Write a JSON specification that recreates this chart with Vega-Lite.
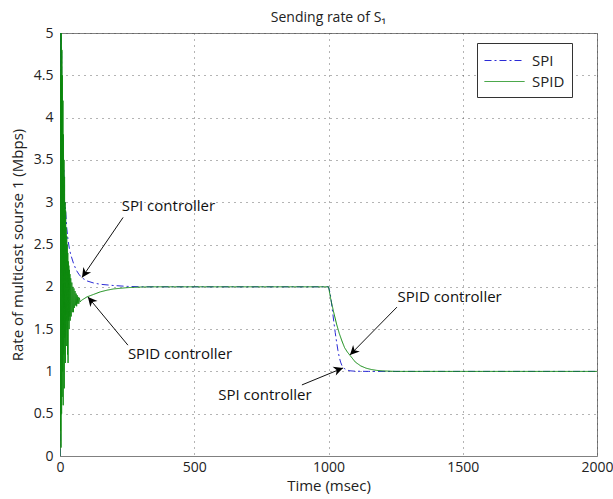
{
  "$schema": "https://vega.github.io/schema/vega-lite/v6.json",
  "width": 537,
  "height": 423,
  "autosize": {"type": "none"},
  "padding": {"left": 60, "top": 33, "right": 16, "bottom": 43},
  "background": "white",
  "config": {
    "font": "Open Sans",
    "view": {"stroke": "#808080", "strokeWidth": 1},
    "axis": {"labelFont": "Open Sans", "titleFont": "Open Sans", "labelFontSize": 14, "titleFontSize": 15, "titleFontWeight": "normal", "labelColor": "#222", "titleColor": "#222", "domainColor": "#808080", "ticks": false, "labelFlush": false, "gridColor": "#444", "gridDash": [1, 5], "gridOpacity": 0.8}
  },
  "title": {"text": "Sending rate of S₁", "fontSize": 14, "fontWeight": "normal", "font": "Open Sans", "color": "#222", "offset": 1},
  "datasets": {
    "series": [
      {"t": 0, "rate": 0, "ctrl": "SPI"}, {"t": 1, "rate": 3.0, "ctrl": "SPI"}, {"t": 2, "rate": 5.0, "ctrl": "SPI"}, {"t": 3, "rate": 4.6, "ctrl": "SPI"}, {"t": 4, "rate": 5.0, "ctrl": "SPI"}, {"t": 5, "rate": 3.2, "ctrl": "SPI"}, {"t": 6, "rate": 4.8, "ctrl": "SPI"}, {"t": 7, "rate": 3.0, "ctrl": "SPI"}, {"t": 8, "rate": 4.2, "ctrl": "SPI"}, {"t": 9, "rate": 2.9, "ctrl": "SPI"}, {"t": 10, "rate": 3.7, "ctrl": "SPI"}, {"t": 11, "rate": 2.6, "ctrl": "SPI"}, {"t": 12, "rate": 3.6, "ctrl": "SPI"}, {"t": 13, "rate": 2.4, "ctrl": "SPI"}, {"t": 14, "rate": 3.4, "ctrl": "SPI"}, {"t": 15, "rate": 2.2, "ctrl": "SPI"}, {"t": 16, "rate": 3.2, "ctrl": "SPI"}, {"t": 17, "rate": 2.3, "ctrl": "SPI"}, {"t": 18, "rate": 3.0, "ctrl": "SPI"}, {"t": 20, "rate": 2.95, "ctrl": "SPI"}, {"t": 22, "rate": 2.85, "ctrl": "SPI"}, {"t": 25, "rate": 2.7, "ctrl": "SPI"}, {"t": 30, "rate": 2.55, "ctrl": "SPI"}, {"t": 35, "rate": 2.45, "ctrl": "SPI"}, {"t": 40, "rate": 2.38, "ctrl": "SPI"}, {"t": 50, "rate": 2.28, "ctrl": "SPI"}, {"t": 60, "rate": 2.2, "ctrl": "SPI"}, {"t": 70, "rate": 2.15, "ctrl": "SPI"}, {"t": 80, "rate": 2.11, "ctrl": "SPI"}, {"t": 100, "rate": 2.07, "ctrl": "SPI"}, {"t": 125, "rate": 2.045, "ctrl": "SPI"}, {"t": 150, "rate": 2.03, "ctrl": "SPI"}, {"t": 200, "rate": 2.015, "ctrl": "SPI"}, {"t": 250, "rate": 2.005, "ctrl": "SPI"}, {"t": 300, "rate": 2.0, "ctrl": "SPI"}, {"t": 1000, "rate": 2.0, "ctrl": "SPI"}, {"t": 1005, "rate": 1.94, "ctrl": "SPI"}, {"t": 1010, "rate": 1.84, "ctrl": "SPI"}, {"t": 1015, "rate": 1.71, "ctrl": "SPI"}, {"t": 1020, "rate": 1.58, "ctrl": "SPI"}, {"t": 1025, "rate": 1.46, "ctrl": "SPI"}, {"t": 1030, "rate": 1.35, "ctrl": "SPI"}, {"t": 1035, "rate": 1.25, "ctrl": "SPI"}, {"t": 1040, "rate": 1.17, "ctrl": "SPI"}, {"t": 1045, "rate": 1.11, "ctrl": "SPI"}, {"t": 1050, "rate": 1.07, "ctrl": "SPI"}, {"t": 1060, "rate": 1.03, "ctrl": "SPI"}, {"t": 1070, "rate": 1.015, "ctrl": "SPI"}, {"t": 1080, "rate": 1.007, "ctrl": "SPI"}, {"t": 1100, "rate": 1.002, "ctrl": "SPI"}, {"t": 1150, "rate": 1.0, "ctrl": "SPI"}, {"t": 2000, "rate": 1.0, "ctrl": "SPI"},
      {"t": 0, "rate": 0, "ctrl": "SPID"}, {"t": 1, "rate": 4.5, "ctrl": "SPID"}, {"t": 2, "rate": 0.3, "ctrl": "SPID"}, {"t": 3, "rate": 5.0, "ctrl": "SPID"}, {"t": 4, "rate": 0.1, "ctrl": "SPID"}, {"t": 5, "rate": 5.0, "ctrl": "SPID"}, {"t": 6, "rate": 0.5, "ctrl": "SPID"}, {"t": 7, "rate": 4.8, "ctrl": "SPID"}, {"t": 8, "rate": 0.7, "ctrl": "SPID"}, {"t": 9, "rate": 4.5, "ctrl": "SPID"}, {"t": 10, "rate": 1.0, "ctrl": "SPID"}, {"t": 11, "rate": 4.2, "ctrl": "SPID"}, {"t": 12, "rate": 0.6, "ctrl": "SPID"}, {"t": 13, "rate": 3.8, "ctrl": "SPID"}, {"t": 14, "rate": 1.2, "ctrl": "SPID"}, {"t": 15, "rate": 3.5, "ctrl": "SPID"}, {"t": 16, "rate": 0.8, "ctrl": "SPID"}, {"t": 17, "rate": 3.3, "ctrl": "SPID"}, {"t": 18, "rate": 1.4, "ctrl": "SPID"}, {"t": 19, "rate": 3.0, "ctrl": "SPID"}, {"t": 20, "rate": 1.1, "ctrl": "SPID"}, {"t": 21, "rate": 2.9, "ctrl": "SPID"}, {"t": 22, "rate": 1.5, "ctrl": "SPID"}, {"t": 23, "rate": 2.7, "ctrl": "SPID"}, {"t": 24, "rate": 1.3, "ctrl": "SPID"}, {"t": 25, "rate": 2.6, "ctrl": "SPID"}, {"t": 26, "rate": 1.6, "ctrl": "SPID"}, {"t": 27, "rate": 2.5, "ctrl": "SPID"}, {"t": 28, "rate": 1.2, "ctrl": "SPID"}, {"t": 29, "rate": 2.4, "ctrl": "SPID"}, {"t": 30, "rate": 1.1, "ctrl": "SPID"}, {"t": 31, "rate": 2.3, "ctrl": "SPID"}, {"t": 32, "rate": 1.6, "ctrl": "SPID"}, {"t": 33, "rate": 2.25, "ctrl": "SPID"}, {"t": 34, "rate": 1.5, "ctrl": "SPID"}, {"t": 35, "rate": 2.2, "ctrl": "SPID"}, {"t": 36, "rate": 1.65, "ctrl": "SPID"}, {"t": 37, "rate": 2.15, "ctrl": "SPID"}, {"t": 38, "rate": 1.6, "ctrl": "SPID"}, {"t": 40, "rate": 2.1, "ctrl": "SPID"}, {"t": 42, "rate": 1.65, "ctrl": "SPID"}, {"t": 44, "rate": 2.05, "ctrl": "SPID"}, {"t": 46, "rate": 1.7, "ctrl": "SPID"}, {"t": 48, "rate": 2.0, "ctrl": "SPID"}, {"t": 50, "rate": 1.7, "ctrl": "SPID"}, {"t": 52, "rate": 1.98, "ctrl": "SPID"}, {"t": 54, "rate": 1.75, "ctrl": "SPID"}, {"t": 56, "rate": 1.95, "ctrl": "SPID"}, {"t": 58, "rate": 1.78, "ctrl": "SPID"}, {"t": 60, "rate": 1.92, "ctrl": "SPID"}, {"t": 62, "rate": 1.77, "ctrl": "SPID"}, {"t": 64, "rate": 1.9, "ctrl": "SPID"}, {"t": 66, "rate": 1.8, "ctrl": "SPID"}, {"t": 68, "rate": 1.88, "ctrl": "SPID"}, {"t": 70, "rate": 1.8, "ctrl": "SPID"}, {"t": 72, "rate": 1.87, "ctrl": "SPID"}, {"t": 75, "rate": 1.82, "ctrl": "SPID"}, {"t": 80, "rate": 1.84, "ctrl": "SPID"}, {"t": 90, "rate": 1.86, "ctrl": "SPID"}, {"t": 100, "rate": 1.88, "ctrl": "SPID"}, {"t": 125, "rate": 1.91, "ctrl": "SPID"}, {"t": 150, "rate": 1.94, "ctrl": "SPID"}, {"t": 175, "rate": 1.96, "ctrl": "SPID"}, {"t": 200, "rate": 1.975, "ctrl": "SPID"}, {"t": 250, "rate": 1.99, "ctrl": "SPID"}, {"t": 300, "rate": 1.997, "ctrl": "SPID"}, {"t": 350, "rate": 2.0, "ctrl": "SPID"}, {"t": 1000, "rate": 2.0, "ctrl": "SPID"}, {"t": 1002, "rate": 1.97, "ctrl": "SPID"}, {"t": 1004, "rate": 1.93, "ctrl": "SPID"}, {"t": 1006, "rate": 1.9, "ctrl": "SPID"}, {"t": 1008, "rate": 1.86, "ctrl": "SPID"}, {"t": 1010, "rate": 1.83, "ctrl": "SPID"}, {"t": 1015, "rate": 1.76, "ctrl": "SPID"}, {"t": 1020, "rate": 1.69, "ctrl": "SPID"}, {"t": 1030, "rate": 1.56, "ctrl": "SPID"}, {"t": 1040, "rate": 1.45, "ctrl": "SPID"}, {"t": 1050, "rate": 1.36, "ctrl": "SPID"}, {"t": 1060, "rate": 1.28, "ctrl": "SPID"}, {"t": 1070, "rate": 1.23, "ctrl": "SPID"}, {"t": 1080, "rate": 1.19, "ctrl": "SPID"}, {"t": 1090, "rate": 1.15, "ctrl": "SPID"}, {"t": 1100, "rate": 1.11, "ctrl": "SPID"}, {"t": 1120, "rate": 1.065, "ctrl": "SPID"}, {"t": 1140, "rate": 1.038, "ctrl": "SPID"}, {"t": 1160, "rate": 1.022, "ctrl": "SPID"}, {"t": 1180, "rate": 1.012, "ctrl": "SPID"}, {"t": 1200, "rate": 1.006, "ctrl": "SPID"}, {"t": 1250, "rate": 1.0, "ctrl": "SPID"}, {"t": 2000, "rate": 1.0, "ctrl": "SPID"}
    ],
    "labels": [
      {"t": 404, "rate": 2.96, "label": "SPI controller"},
      {"t": 447, "rate": 1.2, "label": "SPID controller"},
      {"t": 1451, "rate": 1.88, "label": "SPID controller"},
      {"t": 763, "rate": 0.72, "label": "SPI controller"}
    ],
    "arrows": [
      {"t": 235, "rate": 2.82, "t2": 82, "rate2": 2.11},
      {"t": 253, "rate": 1.31, "t2": 104, "rate2": 1.88},
      {"t": 1255, "rate": 1.76, "t2": 1080, "rate2": 1.195},
      {"t": 901, "rate": 0.84, "t2": 1054, "rate2": 1.04}
    ]
  },
  "layer": [
    {
      "data": {"name": "series"},
      "mark": {"type": "line", "strokeWidth": 1, "clip": true},
      "encoding": {
        "x": {"field": "t", "type": "quantitative", "scale": {"domain": [0, 2000], "nice": false}, "axis": {"title": "Time (msec)", "values": [0, 500, 1000, 1500, 2000], "format": "d", "labelPadding": 4, "titlePadding": 4}},
        "y": {"field": "rate", "type": "quantitative", "scale": {"domain": [0, 5], "nice": false}, "axis": {"title": "Rate of multicast sourse 1 (Mbps)", "values": [0, 0.5, 1, 1.5, 2, 2.5, 3, 3.5, 4, 4.5, 5], "format": "~g", "labelPadding": 7, "titlePadding": 8}},
        "color": {"field": "ctrl", "type": "nominal", "scale": {"domain": ["SPI", "SPID"], "range": ["#2b2bd6", "#108a10"]}, "legend": {"title": null, "orient": "none", "legendX": 417, "legendY": 10, "strokeColor": "#333", "fillColor": "white", "padding": 7, "labelFontSize": 15, "labelFont": "Open Sans", "labelColor": "#222", "symbolType": "M-1,0L3,0", "symbolSize": 400, "symbolStrokeWidth": 1, "rowPadding": 2, "labelOffset": 27}},
        "strokeDash": {"field": "ctrl", "type": "nominal", "scale": {"domain": ["SPI", "SPID"], "range": [[7, 3, 2, 3], [1, 0]]}, "legend": {"title": null}},
        "order": {"field": "t", "type": "quantitative"}
      }
    },
    {
      "data": {"name": "labels"},
      "mark": {"type": "text", "fontSize": 15, "font": "Open Sans", "color": "#111", "align": "center", "baseline": "middle"},
      "encoding": {
        "x": {"field": "t", "type": "quantitative"},
        "y": {"field": "rate", "type": "quantitative"},
        "text": {"field": "label"}
      }
    },
    {
      "data": {"name": "arrows"},
      "mark": {"type": "rule", "color": "#111", "strokeWidth": 1},
      "encoding": {
        "x": {"field": "t", "type": "quantitative"},
        "y": {"field": "rate", "type": "quantitative"},
        "x2": {"field": "t2"},
        "y2": {"field": "rate2"}
      }
    },
    {
      "data": {"values": [{"t": 82, "rate": 2.11}]},
      "mark": {"type": "point", "shape": "M0,0 L-0.5,1 L0,0.7 L0.5,1 Z", "filled": true, "color": "#000", "opacity": 1, "size": 350, "angle": 214},
      "encoding": {"x": {"field": "t", "type": "quantitative"}, "y": {"field": "rate", "type": "quantitative"}}
    },
    {
      "data": {"values": [{"t": 104, "rate": 1.88}]},
      "mark": {"type": "point", "shape": "M0,0 L-0.5,1 L0,0.7 L0.5,1 Z", "filled": true, "color": "#000", "opacity": 1, "size": 350, "angle": 320},
      "encoding": {"x": {"field": "t", "type": "quantitative"}, "y": {"field": "rate", "type": "quantitative"}}
    },
    {
      "data": {"values": [{"t": 1080, "rate": 1.195}]},
      "mark": {"type": "point", "shape": "M0,0 L-0.5,1 L0,0.7 L0.5,1 Z", "filled": true, "color": "#000", "opacity": 1, "size": 350, "angle": 224},
      "encoding": {"x": {"field": "t", "type": "quantitative"}, "y": {"field": "rate", "type": "quantitative"}}
    },
    {
      "data": {"values": [{"t": 1054, "rate": 1.04}]},
      "mark": {"type": "point", "shape": "M0,0 L-0.5,1 L0,0.7 L0.5,1 Z", "filled": true, "color": "#000", "opacity": 1, "size": 350, "angle": 70},
      "encoding": {"x": {"field": "t", "type": "quantitative"}, "y": {"field": "rate", "type": "quantitative"}}
    }
  ]
}
